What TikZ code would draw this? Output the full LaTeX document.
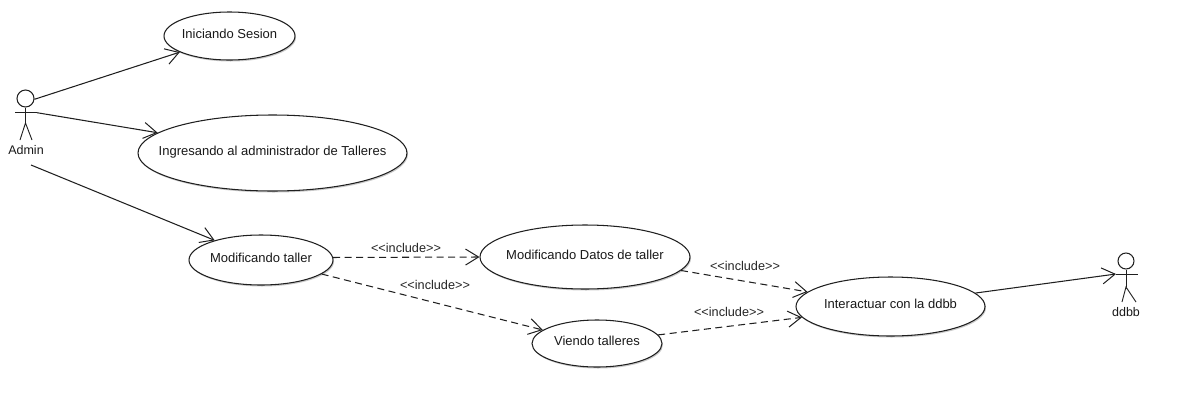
\documentclass[tikz,border=0pt]{standalone}
\usepackage{fontspec}
\setmainfont{Liberation Sans}
\usetikzlibrary{arrows.meta,shapes.geometric,shadows}
\newcommand{\uctext}[1]{\raisebox{-2.2pt}[0pt][0pt]{#1}}
\tikzset{
  line/.style={line width=1.05pt,draw=black!88},
  usecase/.style={ellipse,line,fill=white,inner xsep=-60pt,inner ysep=0pt,text=black!90,font=\fontsize{13}{15}\selectfont,
    drop shadow={shadow xshift=1pt,shadow yshift=-1.5pt,opacity=.35,fill=black!60}},
  actorhead/.style={circle,line,fill=white,inner sep=0pt},
  actorlabel/.style={inner sep=0pt,text=black!90,font=\fontsize{12.5}{14}\selectfont},
  inclabel/.style={inner sep=0pt,text=black!85,font=\fontsize{12.7}{14}\selectfont},
  assoc/.style={line,-{Straight Barb[length=13pt,width=16pt,line width=1pt]}},
  incl/.style={assoc,dash pattern=on 7pt off 4.5pt},
  limb/.style={line,line width=.9pt}
}
\begin{document}
\begin{tikzpicture}[x=1pt,y=-1pt]
\useasboundingbox (0,0) rectangle (1189,413);
\fill[white] (0,0) rectangle (1189,413);
% use cases
\node[usecase,minimum width=131pt,minimum height=48pt] (ini) at (229.5,36) {\uctext{Iniciando Sesion}};
\node[usecase,minimum width=269pt,minimum height=76pt] (ing) at (272.5,153) {\uctext{Ingresando al administrador de Talleres}};
\node[usecase,minimum width=144pt,minimum height=50pt] (mod) at (261,260) {\uctext{Modificando taller}};
\node[usecase,minimum width=210pt,minimum height=64pt] (dat) at (585,257) {\uctext{Modificando Datos de taller}};
\node[usecase,minimum width=130pt,minimum height=47pt] (vie) at (597,343.5) {\uctext{Viendo talleres}};
\node[usecase,minimum width=189pt,minimum height=59pt] (int) at (890.5,306.5) {\uctext{Interactuar con la ddbb}};
% actor Admin
\node[actorhead,minimum size=17pt] (ahead) at (25.5,98.5) {};
\coordinate (ahip) at (25.5,123);
\coordinate (alarm) at (15,112.7);
\coordinate (ararm) at (37,112.7);
\coordinate (alleg) at (20,140);
\coordinate (arleg) at (32,140);
\draw[limb] (ahead) -- (ahip);
\draw[limb] (alarm) -- (ararm);
\draw[limb] (alleg) -- (ahip) -- (arleg);
\node[actorlabel] (alabel) at (26,150) {Admin};
\coordinate (afree) at (31,165);
% actor ddbb
\node[actorhead,minimum size=16pt] (dhead) at (1126,261) {};
\coordinate (dhip) at (1126,287);
\coordinate (dlarm) at (1116,274);
\coordinate (drarm) at (1138,274);
\coordinate (dlleg) at (1122,302);
\coordinate (drleg) at (1136,302);
\draw[limb] (dhead) -- (dhip);
\draw[limb] (dlarm) -- (drarm);
\draw[limb] (dlleg) -- (dhip) -- (drleg);
\node[actorlabel] (dlabel) at (1126,312) {ddbb};
% associations
\draw[assoc] (ahead.-5) -- (ini.198);
\draw[assoc] (ararm) -- (ing.170);
\draw[assoc] (afree) -- (mod.157);
\draw[assoc] (int.9) -- (dlarm);
% includes
\draw[incl] (mod.2) -- (dat.180);
\draw[incl] (mod.-13) -- (vie.166);
\draw[incl] (dat.-8) -- (int.170);
\draw[incl] (vie.8) -- (int.187);
\node[inclabel] (l1) at (406,248) {<{}<include>{}>};
\node[inclabel] (l2) at (435,285) {<{}<include>{}>};
\node[inclabel] (l3) at (745,266) {<{}<include>{}>};
\node[inclabel] (l4) at (729,312) {<{}<include>{}>};
\end{tikzpicture}
\end{document}
